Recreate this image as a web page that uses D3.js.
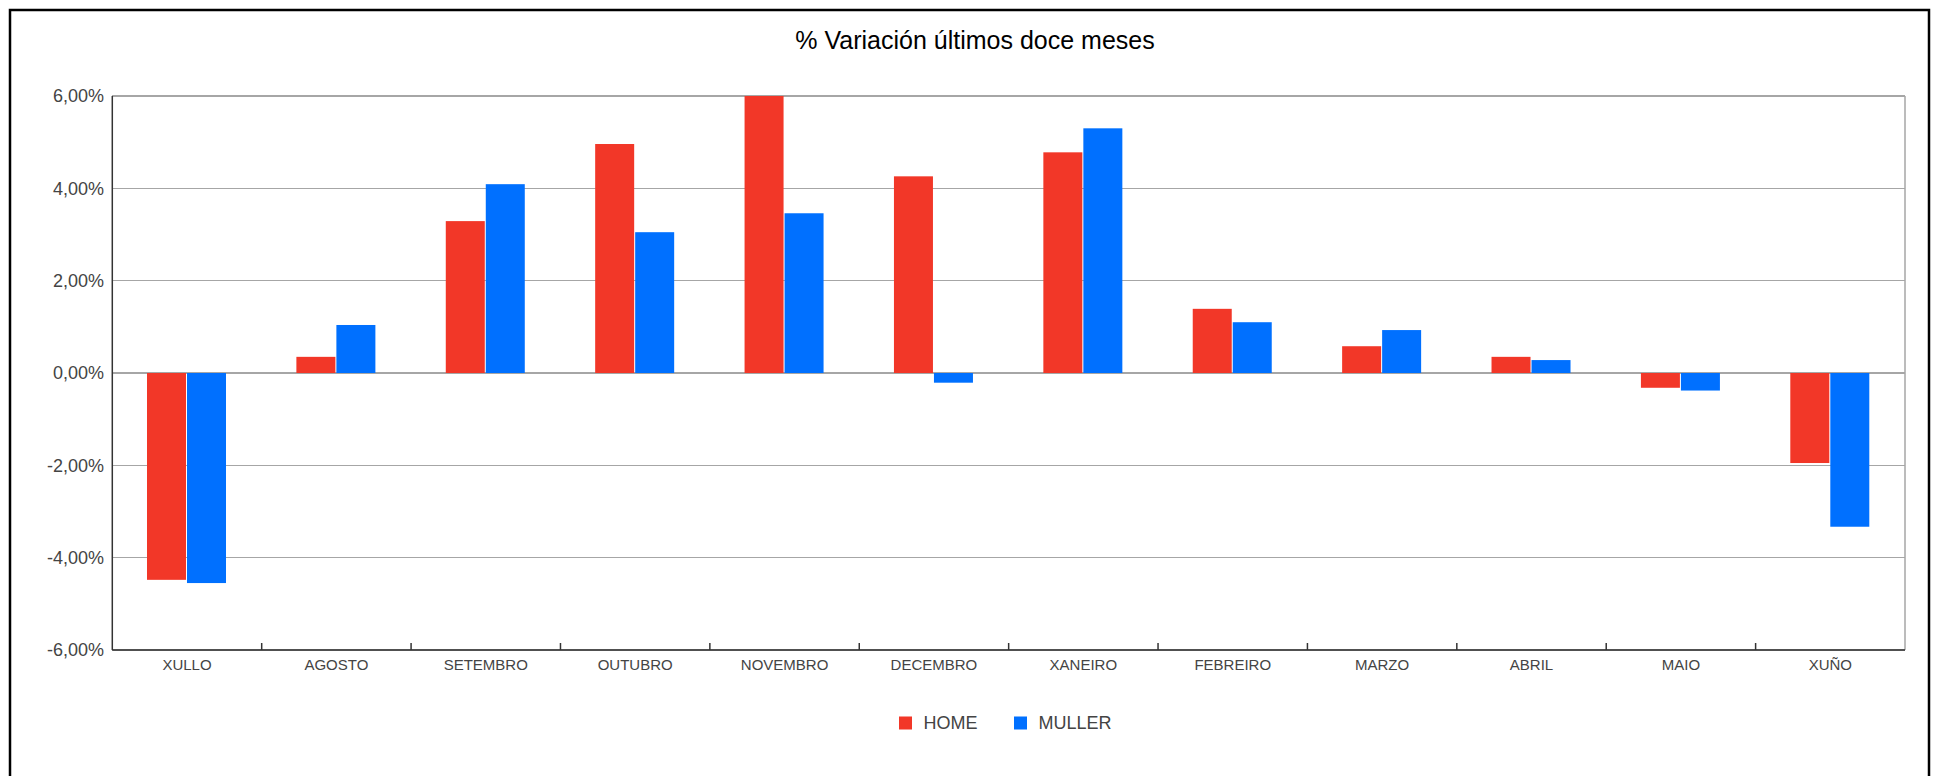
<!DOCTYPE html>
<html>
<head>
<meta charset="utf-8">
<script src="https://cdn.jsdelivr.net/npm/d3@7/dist/d3.min.js"></script>
<style>
  html, body { margin: 0; padding: 0; background: #fff; }
  svg { display: block; }
  text { font-family: "Liberation Sans", Arial, sans-serif; }
</style>
</head>
<body>
<svg id="chart" width="1935" height="776"></svg>
<script>
const categories = ["XULLO", "AGOSTO", "SETEMBRO", "OUTUBRO", "NOVEMBRO", "DECEMBRO", "XANEIRO", "FEBREIRO", "MARZO", "ABRIL", "MAIO", "XUÑO"];
const seriesNames = ["HOME", "MULLER"];
const homeValues = [-4.48, 0.35, 3.29, 4.96, 6.00, 4.26, 4.78, 1.39, 0.58, 0.35, -0.32, -1.95];
const mullerValues = [-4.55, 1.04, 4.09, 3.05, 3.46, -0.21, 5.30, 1.10, 0.93, 0.28, -0.38, -3.33];
const yTicks = [-6, -4, -2, 0, 2, 4, 6];
const titleText = "% Variación últimos doce meses";

const colors = {HOME: "#f23728", MULLER: "#0070ff"};

const svg = d3.select("#chart");
const plot = {left: 112.3, right: 1905, top: 96, bottom: 650};

// outer frame
svg.append("rect")
  .attr("x", 10).attr("y", 10)
  .attr("width", 1919).attr("height", 820)
  .attr("fill", "none").attr("stroke", "#000").attr("stroke-width", 2.5);

// title
svg.append("text")
  .attr("x", 975).attr("y", 49)
  .attr("text-anchor", "middle")
  .attr("font-size", 25)
  .attr("fill", "#000")
  .text(titleText);

const x = d3.scaleBand().domain(categories).range([plot.left, plot.right]).padding(0);
const y = d3.scaleLinear().domain([-6, 6]).range([plot.bottom, plot.top]);

const fmt = v => d3.format(".2f")(v).replace("\u2212", "-").replace(".", ",") + "%";

// gridlines
svg.append("g").selectAll("line")
  .data(yTicks)
  .join("line")
  .attr("x1", plot.left).attr("x2", plot.right)
  .attr("y1", d => y(d)).attr("y2", d => y(d))
  .attr("stroke", "#a6a6a6").attr("stroke-width", 1.2)
  .attr("shape-rendering", "crispEdges");

// right border of plot
svg.append("line")
  .attr("x1", plot.right).attr("x2", plot.right)
  .attr("y1", plot.top).attr("y2", plot.bottom)
  .attr("stroke", "#a6a6a6").attr("stroke-width", 1.5);

// y labels
svg.append("g").selectAll("text")
  .data(yTicks)
  .join("text")
  .attr("x", 104)
  .attr("y", d => y(d))
  .attr("dy", "0.35em")
  .attr("text-anchor", "end")
  .attr("font-size", 18)
  .attr("fill", "#444")
  .text(d => fmt(d));

// bars
const barW = 39;
const data = categories.map((c, i) => ({c, HOME: homeValues[i], MULLER: mullerValues[i]}));
const g = svg.append("g");
data.forEach(d => {
  const cx = x(d.c) + x.bandwidth() / 2;
  seriesNames.forEach((s, j) => {
    const v = d[s];
    g.append("rect")
      .attr("x", j === 0 ? cx - barW - 1 : cx)
      .attr("width", barW)
      .attr("y", v >= 0 ? y(v) : y(0))
      .attr("height", Math.abs(y(v) - y(0)))
      .attr("fill", colors[s]);
  });
});

// left axis
svg.append("line")
  .attr("x1", plot.left).attr("x2", plot.left)
  .attr("y1", plot.top).attr("y2", plot.bottom)
  .attr("stroke", "#333").attr("stroke-width", 1.5);

// bottom axis
svg.append("line")
  .attr("x1", plot.left).attr("x2", plot.right)
  .attr("y1", plot.bottom).attr("y2", plot.bottom)
  .attr("stroke", "#333").attr("stroke-width", 1.5);

// x ticks at boundaries
svg.append("g").selectAll("line")
  .data(categories.slice(1))
  .join("line")
  .attr("x1", d => x(d)).attr("x2", d => x(d))
  .attr("y1", plot.bottom).attr("y2", plot.bottom - 7)
  .attr("stroke", "#333").attr("stroke-width", 1.5);

// x labels
svg.append("g").selectAll("text")
  .data(categories)
  .join("text")
  .attr("x", d => x(d) + x.bandwidth() / 2)
  .attr("y", 670)
  .attr("text-anchor", "middle")
  .attr("font-size", 15)
  .attr("fill", "#444")
  .text(d => d);

// legend
const legendX = [899, 1014];
seriesNames.forEach((s, i) => {
  svg.append("rect")
    .attr("x", legendX[i]).attr("y", 716.5)
    .attr("width", 13).attr("height", 13)
    .attr("fill", colors[s]);
  svg.append("text")
    .attr("x", legendX[i] + 24.5).attr("y", 728.5)
    .attr("font-size", 18)
    .attr("fill", "#444")
    .text(s);
});
</script>
</body>
</html>
